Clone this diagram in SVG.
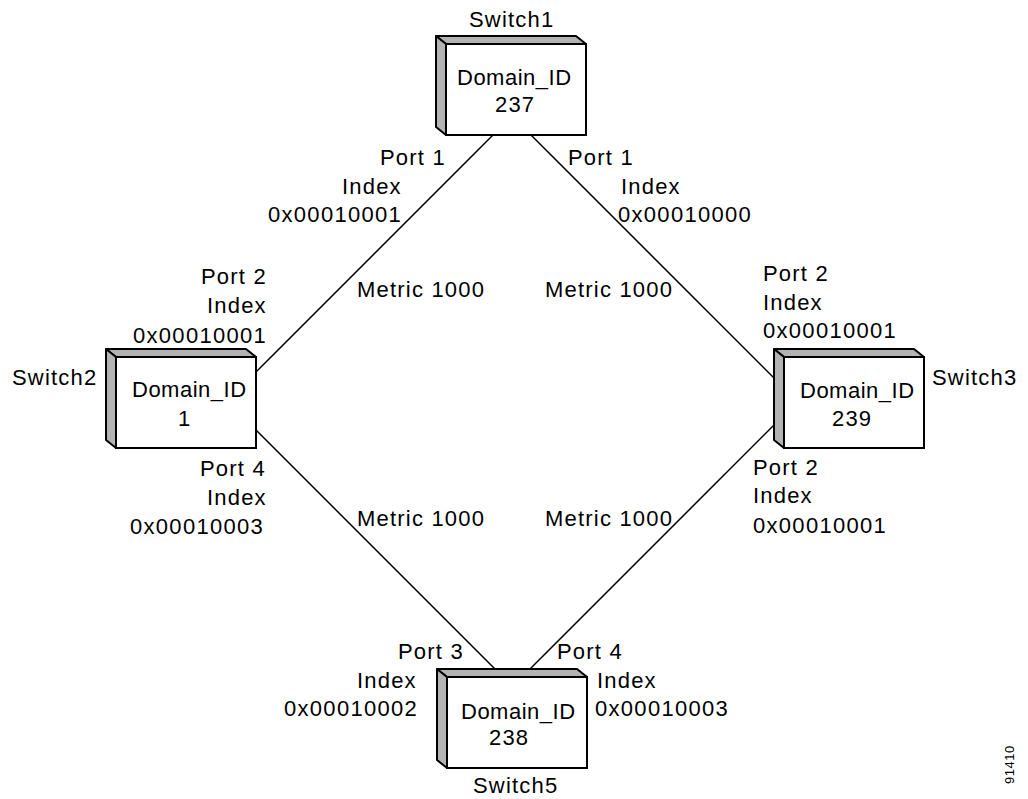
<svg xmlns="http://www.w3.org/2000/svg" width="1028" height="799" viewBox="0 0 1028 799">
<style>
text{font-family:"Liberation Sans",Arial,sans-serif;font-size:22px;letter-spacing:1.2px;fill:#000}
.d{letter-spacing:0.5px}
.h{letter-spacing:1.3px}
.front{fill:#fff;stroke:#000;stroke-width:2}
.side{fill:#b3b3b3;stroke:#000;stroke-width:2;stroke-linejoin:round}
.conn line{stroke:#000;stroke-width:1.5}
.tag{font-size:13px;letter-spacing:0.5px}
</style>
<defs>
<g id="box">
<polygon class="side" points="-10,-8 130,-8 140,0 0,0"/>
<polygon class="side" points="-10,-8 0,0 0,91 -10,83"/>
<rect class="front" x="0" y="0" width="140" height="91"/>
</g>
</defs>
<rect width="1028" height="799" fill="#fff"/>
<g id="connectors" class="conn">
<line x1="493" y1="135" x2="256" y2="372"/>
<line x1="531" y1="135" x2="776" y2="380"/>
<line x1="256" y1="430" x2="495" y2="669"/>
<line x1="776" y1="423" x2="530" y2="669"/>
</g>
<g id="switch1">
<use href="#box" x="446" y="44"/>
<text x="469" y="27">Switch1</text>
<text class="d" x="457" y="85">Domain_ID</text>
<text x="495" y="112">237</text>
</g>
<g id="switch2">
<use href="#box" x="116" y="357"/>
<text x="12" y="385">Switch2</text>
<text class="d" x="132" y="397">Domain_ID</text>
<text x="178" y="426">1</text>
</g>
<g id="switch3">
<use href="#box" x="784" y="357"/>
<text x="932" y="385">Switch3</text>
<text class="d" x="800" y="398">Domain_ID</text>
<text x="832" y="426">239</text>
</g>
<g id="switch5">
<use href="#box" x="447" y="677"/>
<text x="473" y="793">Switch5</text>
<text class="d" x="461" y="719">Domain_ID</text>
<text x="489" y="745">238</text>
</g>
<g id="labels">
<text x="380" y="165">Port 1</text>
<text x="342" y="194">Index</text>
<text class="h" x="268" y="222">0x00010001</text>
<text x="568" y="165">Port 1</text>
<text x="621" y="194">Index</text>
<text class="h" x="618" y="222">0x00010000</text>
<text x="357" y="297">Metric 1000</text>
<text x="545" y="297">Metric 1000</text>
<text x="201" y="284">Port 2</text>
<text x="207" y="313">Index</text>
<text class="h" x="133" y="343">0x00010001</text>
<text x="763" y="281">Port 2</text>
<text x="763" y="310">Index</text>
<text class="h" x="763" y="338">0x00010001</text>
<text x="200" y="476">Port 4</text>
<text x="207" y="505">Index</text>
<text class="h" x="130" y="534">0x00010003</text>
<text x="753" y="475">Port 2</text>
<text x="753" y="503">Index</text>
<text class="h" x="753" y="533">0x00010001</text>
<text x="357" y="526">Metric 1000</text>
<text x="545" y="526">Metric 1000</text>
<text x="398" y="659">Port 3</text>
<text x="357" y="688">Index</text>
<text class="h" x="284" y="716">0x00010002</text>
<text x="557" y="659">Port 4</text>
<text x="597" y="688">Index</text>
<text class="h" x="595" y="716">0x00010003</text>
<text class="tag" transform="translate(1014,784) rotate(-90)">91410</text>
</g>
</svg>
